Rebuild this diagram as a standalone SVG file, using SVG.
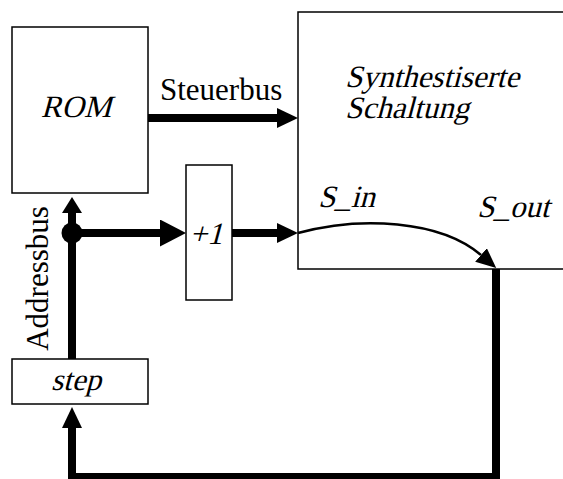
<svg xmlns="http://www.w3.org/2000/svg" width="563" height="479" viewBox="0 0 563 479">
<style>
.box{fill:#fff;stroke:#000;stroke-width:1.5}
.t{font-family:"Liberation Serif","Times New Roman",serif;font-size:31px;fill:#000}
.bus{fill:none;stroke:#000;stroke-width:8;stroke-linejoin:miter}
.thin{fill:none;stroke:#000;stroke-width:2.5}
</style>
<defs>
<marker id="ah" markerUnits="userSpaceOnUse" viewBox="0 0 21 20" refX="0" refY="10" markerWidth="21" markerHeight="20" orient="auto"><path d="M0,0 L21,10 L0,20 z" fill="#000"/></marker>
<marker id="ahS" markerUnits="userSpaceOnUse" viewBox="0 0 16 20" refX="0" refY="10" markerWidth="16" markerHeight="20" orient="auto"><path d="M0,0 L16,10 L0,20 z" fill="#000"/></marker>
<marker id="ahL" markerUnits="userSpaceOnUse" viewBox="0 0 26 27" refX="0" refY="13.5" markerWidth="26" markerHeight="27" orient="auto"><path d="M0,0 L26,13.5 L0,27 z" fill="#000"/></marker>
<marker id="ahC" markerUnits="userSpaceOnUse" viewBox="0 0 20 18" refX="0" refY="9" markerWidth="20" markerHeight="18" orient="auto"><path d="M0,0 L20,9 L0,18 z" fill="#000"/></marker>
</defs>
<g id="rom"><rect class="box" x="12" y="27" width="136" height="166"/><text class="t" transform="translate(76,117) skewX(-15)" text-anchor="middle">ROM</text></g>
<g id="synth"><rect class="box" x="298" y="12" width="300" height="257"/><text class="t" transform="translate(345,87) skewX(-15)">Synthestiserte</text><text class="t" transform="translate(345,118) skewX(-15)">Schaltung</text><text class="t" transform="translate(318,207) skewX(-15)">S_in</text><text class="t" transform="translate(477,217) skewX(-15)">S_out</text></g>
<g id="inc"><rect class="box" x="186" y="165" width="46" height="135"/><text class="t" transform="translate(206,244) skewX(-15)" text-anchor="middle">+1</text></g>
<g id="step"><rect class="box" x="12" y="359" width="136" height="45"/><text class="t" transform="translate(76,390) skewX(-15)" text-anchor="middle">step</text></g>
<g id="connectors">
<path class="bus" d="M148,118 H277" marker-end="url(#ah)"/>
<text class="t" x="160" y="100">Steuerbus</text>
<path class="bus" d="M72,359 V213" marker-end="url(#ahS)"/>
<circle cx="72" cy="233" r="10.5" fill="#000"/>
<path class="bus" d="M72,233 H160" marker-end="url(#ahL)"/>
<path class="bus" d="M232,233 H277" marker-end="url(#ah)"/>
<path class="thin" d="M298,233 C360,216 440,220 481,255" marker-end="url(#ahC)"/>
<path class="bus" d="M496,269 V477 H72 V428" marker-end="url(#ah)"/>
<text class="t" transform="translate(48,278.5) rotate(-90)" text-anchor="middle">Addressbus</text>
</g>
</svg>
